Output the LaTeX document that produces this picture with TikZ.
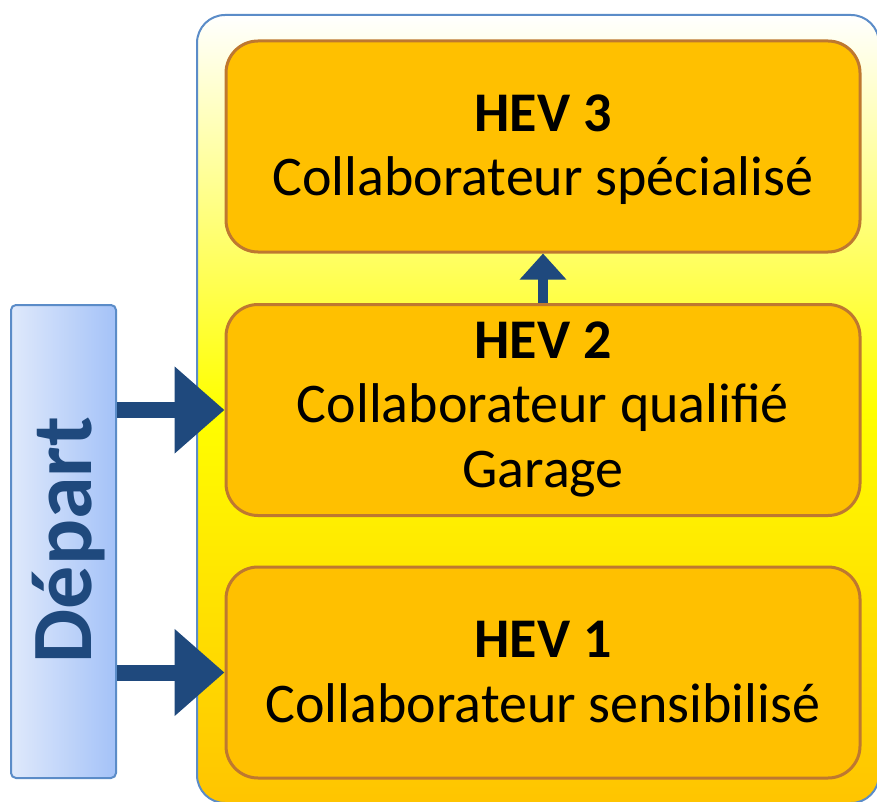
\documentclass[tikz,border=0pt]{standalone}
\usepackage{fontspec}
\setmainfont{Carlito}
\usetikzlibrary{arrows.meta}
\definecolor{boxfill}{HTML}{FFC000}
\definecolor{boxline}{HTML}{BE7830}
\definecolor{panelline}{HTML}{5B8CC8}
\definecolor{navy}{HTML}{1F497D}
\definecolor{depL}{HTML}{DFE9FB}
\definecolor{depR}{HTML}{A4C2F8}
\definecolor{panelbot}{HTML}{FFC400}
\definecolor{panelmid}{HTML}{FFFF00}
\begin{document}
\begin{tikzpicture}[x=1pt,y=-1pt,
  hevbox/.style={draw=boxline, fill=boxfill, line width=3pt, rounded corners=32pt,
    minimum width=634pt, minimum height=211pt, inner sep=0pt},
  titletxt/.style={anchor=base, font=\bfseries\fontsize{56}{66}\selectfont},
  bodytxt/.style={anchor=base, font=\fontsize{56}{66}\selectfont},
  bigarrow/.style={navy, line width=16pt, -{Triangle[length=50pt,width=84pt]}},
  smallarrow/.style={navy, line width=10pt, -{Triangle[length=26pt,width=45pt]}}
]
\useasboundingbox (0,0) rectangle (877,802);
\node[draw=panelline, line width=2pt, rounded corners=28pt,
  top color=white, bottom color=panelbot, middle color=panelmid,
  minimum width=682pt, minimum height=788pt, inner sep=0pt] (panel) at (538,409) {};
\node[draw=panelline, line width=2pt, rounded corners=5pt,
  left color=depL, right color=depR,
  minimum width=105pt, minimum height=473pt, inner sep=0pt] (dep) at (63.5,541.5) {};
\node[rotate=90, anchor=base, text=navy, font=\bfseries\fontsize{86}{90}\selectfont] (deptxt) at (91,540) {Départ};

\node[hevbox] (h3) at (543,146.5) {};
\node[hevbox] (h2) at (543,410) {};
\node[hevbox] (h1) at (543,672.5) {};

\node[titletxt] (t3a) at (543,132) {HEV 3};
\node[bodytxt] (t3b) at (543,196) {Collaborateur spécialisé};
\node[titletxt] (t2a) at (543,358) {HEV 2};
\node[bodytxt] (t2b) at (543,422) {Collaborateur qualifié};
\node[bodytxt] (t2c) at (543,487) {Garage};
\node[titletxt] (t1a) at (543,657) {HEV 1};
\node[bodytxt] (t1b) at (543,722) {Collaborateur sensibilisé};

\draw[bigarrow] (dep.east |- h2.west) -- (h2.west);
\draw[bigarrow] (dep.east |- h1.west) -- (h1.west);
\draw[smallarrow] (h2.north) -- (h3.south);
\end{tikzpicture}
\end{document}
